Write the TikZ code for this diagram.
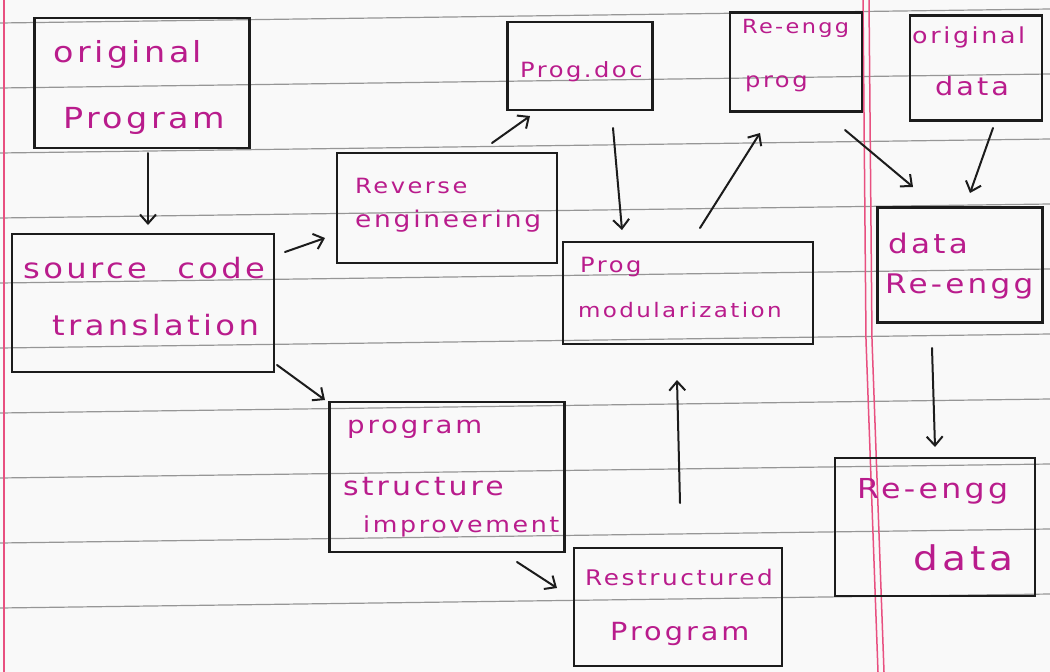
\documentclass[tikz,border=0pt]{standalone}
\usepackage{fontspec}
\newfontfamily\hand[FakeStretch=1.15,LetterSpace=12]{DejaVu Sans}
\usetikzlibrary{arrows.meta}
\definecolor{ink}{RGB}{185,28,140}
\definecolor{pen}{RGB}{28,28,28}
\definecolor{rulegray}{RGB}{150,150,150}
\definecolor{marginred}{RGB}{232,80,128}
\definecolor{paper}{RGB}{249,249,249}
\newcommand\hsz[1]{\fontsize{#1}{#1}\selectfont}

\begin{document}
\begin{tikzpicture}[x=1pt,y=-1pt,
  box/.style={draw=pen, line width=2.6pt, rectangle, inner sep=0pt, outer sep=0pt},
  lbl/.style={anchor=base west, inner sep=0pt, text=ink},
  arr/.style={draw=pen, line width=2pt, line cap=round,
              -{Straight Barb[length=9pt,width=16pt]}},
]
% sheet of ruled paper
\fill[paper] (0,0) rectangle (1050,672);
\useasboundingbox (0,0) rectangle (1050,672);
\foreach \y in {23,88,...,670}
  \draw[rulegray, line width=1.2pt] (0,\y) -- (1050,\y-14);
\draw[marginred, line width=1.5pt] (4,0) -- (4,672);
\draw[marginred, line width=1.5pt] (863,0) -- (866,340) -- (878,672);
\draw[marginred, line width=1.5pt] (869,0) -- (872,340) -- (884,672);

% boxes
\node[box, minimum width=215, minimum height=130] (op)  at (142,83)  {};
\node[box, minimum width=262, minimum height=138] (sct) at (143,303) {};
\node[box, minimum width=220, minimum height=110] (re)  at (447,208) {};
\node[box, minimum width=145, minimum height=88]  (pd)  at (580,66)  {};
\node[box, minimum width=132, minimum height=99]  (rp)  at (796,62)  {};
\node[box, minimum width=132, minimum height=105] (od)  at (976,68)  {};
\node[box, minimum width=250, minimum height=102] (pm)  at (688,293) {};
\node[box, minimum width=165, minimum height=115] (dr)  at (960,265) {};
\node[box, minimum width=235, minimum height=150] (psi) at (447,477) {};
\node[box, minimum width=208, minimum height=118] (rs)  at (678,607) {};
\node[box, minimum width=200, minimum height=138] (rd)  at (935,527) {};

% handwritten labels
\node[lbl, font=\hand\hsz{29}] (op1) at (53,62)  {original};
\node[lbl, font=\hand\hsz{29}] (op2) at (63,128) {Program};
\node[lbl, font=\hand\hsz{28}] (sct1) at (23,278) {source\hspace{.6em} code};
\node[lbl, font=\hand\hsz{28}] (sct2) at (52,335) {translation};
\node[lbl, font=\hand\hsz{21}] (re1) at (355,193) {Reverse};
\node[lbl, font=\hand\hsz{23}] (re2) at (355,227) {engineering};
\node[lbl, font=\hand\hsz{21}] (pd1) at (520,77)  {Prog.doc};
\node[lbl, font=\hand\hsz{19.5}] (rp1) at (742,33) {Re-engg};
\node[lbl, font=\hand\hsz{21}] (rp2) at (745,87)  {prog};
\node[lbl, font=\hand\hsz{22}] (od1) at (912,43)  {original};
\node[lbl, font=\hand\hsz{25}] (od2) at (935,95)  {data};
\node[lbl, font=\hand\hsz{21}] (pm1) at (580,272) {Prog};
\node[lbl, font=\hand\hsz{20}] (pm2) at (578,317) {modularization};
\node[lbl, font=\hand\hsz{27}] (dr1) at (888,253) {data};
\node[lbl, font=\hand\hsz{27}] (dr2) at (885,293) {Re-engg};
\node[lbl, font=\hand\hsz{24}] (psi1) at (347,433) {program};
\node[lbl, font=\hand\hsz{26}] (psi2) at (343,495) {structure};
\node[lbl, font=\hand\hsz{22}] (psi3) at (363,532) {improvement};
\node[lbl, font=\hand\hsz{21.5}] (rs1) at (585,585) {Restructured};
\node[lbl, font=\hand\hsz{25}] (rs2) at (610,640) {Program};
\node[lbl, font=\hand\hsz{27.5}] (rd1) at (857,498) {Re-engg};
\node[lbl, font=\hand\hsz{34}] (rd2) at (913,570) {data};

% flow arrows
\draw[arr] ([shift={(6,5)}]op.south) -- ([shift={(5,-9)}]sct.north);
\draw[arr] ([shift={(11,18)}]sct.north east) -- ([shift={(-12,-25)}]re.south west);
\draw[arr] ([shift={(3,-7)}]sct.south east) -- ([shift={(-4.5,-2)}]psi.north west);
\draw[arr] ([shift={(45,-10)}]re.north) -- ([shift={(22.5,6)}]pd.south west);
\draw[arr] ([shift={(33,18)}]pd.south) -- ([shift={(-66,-12)}]pm.north);
\draw[arr] ([shift={(12,-14)}]pm.north) -- ([shift={(-36,21.5)}]rp.south);
\draw[arr] ([shift={(-17,18.5)}]rp.south east) -- ([shift={(35.5,-20.5)}]dr.north west);
\draw[arr] ([shift={(17,7.5)}]od.south) -- ([shift={(10,-14.5)}]dr.north);
\draw[arr] ([shift={(2,-45)}]rs.north) -- ([shift={(-11,36)}]pm.south);
\draw[arr] ([shift={(70,10)}]psi.south) -- ([shift={(-17,-19)}]rs.west);
\draw[arr] ([shift={(-28,25.5)}]dr.south) -- ([shift={(0,-11)}]rd.north);
\end{tikzpicture}
\end{document}
